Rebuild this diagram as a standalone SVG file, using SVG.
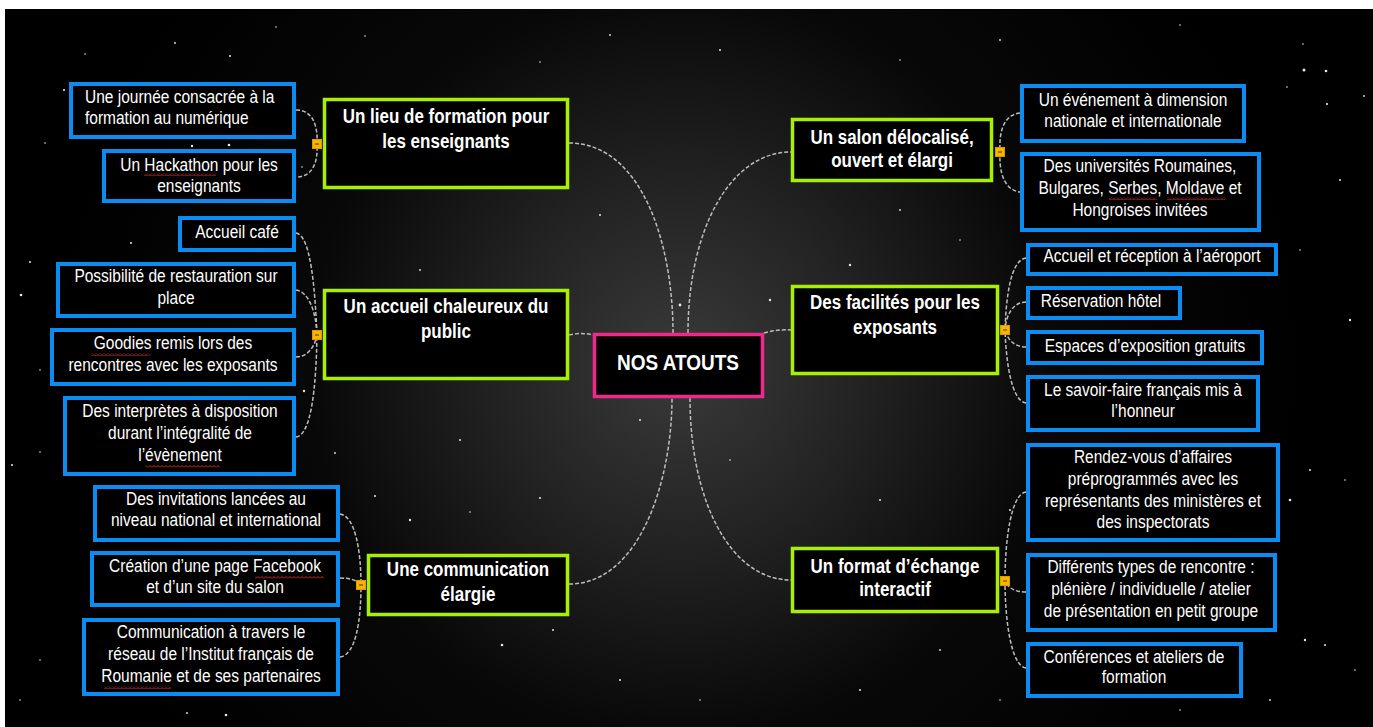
<svg xmlns="http://www.w3.org/2000/svg" width="1373" height="727" viewBox="0 0 1373 727">
<defs>
<radialGradient id="bg" gradientUnits="userSpaceOnUse" cx="680" cy="365" r="620">
<stop offset="0" stop-color="#3a3a3a"/>
<stop offset="0.3" stop-color="#222"/>
<stop offset="0.6" stop-color="#080808"/>
<stop offset="1" stop-color="#000"/>
</radialGradient>
<pattern id="sq" width="4" height="3" patternUnits="userSpaceOnUse">
<path d="M0,2.5 L2,0.5 L4,2.5" stroke="#e02828" fill="none" stroke-width="1"/>
</pattern>
<g id="knob"><rect x="-4.5" y="-4.5" width="9" height="9" fill="#f7b500" stroke="#e09a00" stroke-width="1"/><line x1="-2" y1="0" x2="2" y2="0" stroke="#6a4a00" stroke-width="1.2"/></g>
</defs>
<style>
.g{fill:#000;stroke:#a8f000;stroke-width:3.5}
.b{fill:#000;stroke:#0a8cf0;stroke-width:4}
.c{fill:#000;stroke:#f0288c;stroke-width:3.5}
.gt{font-family:"Liberation Sans",Arial,sans-serif;font-weight:bold;font-size:17px;fill:#fff;text-anchor:middle}
.bt{font-family:"Liberation Sans",Arial,sans-serif;font-size:15.5px;fill:#fff;text-anchor:middle}
.ct{font-family:"Liberation Sans",Arial,sans-serif;font-weight:bold;font-size:19px;fill:#fff;text-anchor:middle}
.ln{fill:none;stroke:#bdbdbd;stroke-width:1.5;stroke-dasharray:4 2}
.st{fill:#e8e8e8}
</style>
<rect x="0" y="0" width="1373" height="727" fill="#fff"/>
<rect x="5" y="9" width="1368" height="718" fill="url(#bg)"/>
<g id="stars">
<circle class="st" cx="175" cy="43" r="0.9"/><circle class="st" cx="85" cy="54" r="0.8"/><circle class="st" cx="230" cy="56" r="1"/><circle class="st" cx="276" cy="27" r="0.8"/><circle class="st" cx="365" cy="36" r="0.8"/><circle class="st" cx="64" cy="90" r="1.1"/><circle class="st" cx="192" cy="146" r="1.2"/><circle class="st" cx="229" cy="145" r="1.3"/><circle class="st" cx="302" cy="167" r="0.8"/><circle class="st" cx="45" cy="143" r="0.8"/><circle class="st" cx="30" cy="262" r="1"/><circle class="st" cx="21" cy="295" r="1.3"/><circle class="st" cx="131" cy="243" r="1"/><circle class="st" cx="40" cy="370" r="0.8"/><circle class="st" cx="304" cy="391" r="1.2"/><circle class="st" cx="12" cy="465" r="1"/><circle class="st" cx="40" cy="452" r="0.8"/><circle class="st" cx="335" cy="453" r="0.9"/><circle class="st" cx="375" cy="496" r="1"/><circle class="st" cx="410" cy="520" r="1.2"/><circle class="st" cx="470" cy="512" r="0.8"/><circle class="st" cx="540" cy="498" r="1"/><circle class="st" cx="502" cy="645" r="1.3"/><circle class="st" cx="553" cy="630" r="1"/><circle class="st" cx="226" cy="715" r="1.3"/><circle class="st" cx="187" cy="713" r="0.9"/><circle class="st" cx="40" cy="660" r="0.8"/><circle class="st" cx="20" cy="700" r="0.8"/><circle class="st" cx="460" cy="440" r="1"/><circle class="st" cx="420" cy="270" r="0.9"/><circle class="st" cx="600" cy="215" r="1"/><circle class="st" cx="540" cy="62" r="0.8"/><circle class="st" cx="610" cy="35" r="0.9"/><circle class="st" cx="720" cy="50" r="1"/><circle class="st" cx="680" cy="305" r="1.4"/><circle class="st" cx="640" cy="420" r="1"/><circle class="st" cx="770" cy="300" r="1.2"/><circle class="st" cx="850" cy="265" r="1.2"/><circle class="st" cx="900" cy="210" r="0.9"/><circle class="st" cx="960" cy="240" r="0.8"/><circle class="st" cx="730" cy="460" r="0.8"/><circle class="st" cx="880" cy="500" r="1"/><circle class="st" cx="940" cy="650" r="0.9"/><circle class="st" cx="860" cy="690" r="1"/><circle class="st" cx="700" cy="700" r="0.8"/><circle class="st" cx="620" cy="680" r="1"/><circle class="st" cx="1000" cy="700" r="0.8"/><circle class="st" cx="1303" cy="44" r="0.8"/><circle class="st" cx="1304" cy="70" r="1.5"/><circle class="st" cx="1326" cy="71" r="1.3"/><circle class="st" cx="1287" cy="87" r="0.8"/><circle class="st" cx="1327" cy="104" r="1.1"/><circle class="st" cx="1364" cy="96" r="0.9"/><circle class="st" cx="1340" cy="180" r="1"/><circle class="st" cx="1300" cy="250" r="0.8"/><circle class="st" cx="1350" cy="320" r="1.2"/><circle class="st" cx="1310" cy="470" r="1"/><circle class="st" cx="1290" cy="500" r="1.3"/><circle class="st" cx="1345" cy="480" r="0.8"/><circle class="st" cx="1305" cy="640" r="1.2"/><circle class="st" cx="1325" cy="645" r="1"/><circle class="st" cx="1355" cy="670" r="0.8"/><circle class="st" cx="1270" cy="700" r="0.9"/><circle class="st" cx="1180" cy="710" r="0.8"/><circle class="st" cx="1100" cy="430" r="1"/><circle class="st" cx="1180" cy="25" r="0.8"/><circle class="st" cx="1000" cy="40" r="0.9"/><circle class="st" cx="900" cy="60" r="0.8"/><circle class="st" cx="1010" cy="510" r="1"/>
</g>
<g id="connectors">
<path class="ln" d="M569,143 C640,143 673,240 673,333"/>
<path class="ln" d="M569,335 Q581,332 593,335"/>
<path class="ln" d="M569,584 C640,584 672,480 672,398"/>
<path class="ln" d="M688,333 C688,230 730,152 791,152"/>
<path class="ln" d="M764,333 Q778,329 791,330"/>
<path class="ln" d="M690,398 C690,500 730,580 791,580"/>
<path class="ln" d="M296,110 C313,110 318,126 317,144 C318,162 313,177 296,177"/>
<path class="ln" d="M296,233 C311,235 315,290 317,335"/>
<path class="ln" d="M296,290 C309,292 316,312 317,335"/>
<path class="ln" d="M296,357 C308,357 315,346 317,335"/>
<path class="ln" d="M296,437 C311,435 316,390 317,335"/>
<path class="ln" d="M340,514 C355,516 361,550 361,585"/>
<path class="ln" d="M340,578 C350,578 357,580 361,585"/>
<path class="ln" d="M340,657 C356,655 361,620 361,585"/>
<path class="ln" d="M1020,113 C1004,115 999,130 1000,152 C999,172 1004,190 1020,192"/>
<path class="ln" d="M1026,258 C1010,260 1006,300 1005,330"/>
<path class="ln" d="M1026,302 C1013,302 1006,315 1005,330"/>
<path class="ln" d="M1026,347 C1013,347 1007,338 1005,330"/>
<path class="ln" d="M1026,403 C1011,401 1006,360 1005,330"/>
<path class="ln" d="M1026,492 C1011,494 1005,540 1005,581"/>
<path class="ln" d="M1026,592 C1015,592 1008,588 1005,581"/>
<path class="ln" d="M1026,668 C1011,666 1005,620 1005,581"/>
</g>
<g id="center">
<rect class="c" x="594.5" y="334.5" width="168" height="62"/>
<text class="ct" transform="translate(678,370) scale(1,1.15)">NOS ATOUTS</text>
</g>
<g id="n-formation">
<rect class="g" x="324.5" y="99.5" width="243" height="88"/>
<text class="gt" transform="translate(446,123) scale(1,1.15)"><tspan x="0" y="0">Un lieu de formation pour</tspan><tspan x="0" y="21.7">les enseignants</tspan></text>
</g>
<g id="n-accueil">
<rect class="g" x="324.5" y="290.5" width="243" height="88"/>
<text class="gt" transform="translate(446,313) scale(1,1.15)"><tspan x="0" y="0">Un accueil chaleureux du</tspan><tspan x="0" y="21.7">public</tspan></text>
</g>
<g id="n-communication">
<rect class="g" x="368.5" y="555.5" width="199" height="59"/>
<text class="gt" transform="translate(468,576) scale(1,1.15)"><tspan x="0" y="0">Une communication</tspan><tspan x="0" y="21.7">élargie</tspan></text>
</g>
<g id="n-salon">
<rect class="g" x="792.5" y="119.5" width="199" height="61"/>
<text class="gt" transform="translate(892,144) scale(1,1.15)"><tspan x="0" y="0">Un salon délocalisé,</tspan><tspan x="0" y="20">ouvert et élargi</tspan></text>
</g>
<g id="n-facilites">
<rect class="g" x="792.5" y="286.5" width="205" height="87"/>
<text class="gt" transform="translate(895,309) scale(1,1.15)"><tspan x="0" y="0">Des facilités pour les</tspan><tspan x="0" y="21.7">exposants</tspan></text>
</g>
<g id="n-format">
<rect class="g" x="792.5" y="548.5" width="205" height="63"/>
<text class="gt" transform="translate(895,573) scale(1,1.15)"><tspan x="0" y="0">Un format d’échange</tspan><tspan x="0" y="20">interactif</tspan></text>
</g>
<g id="c-journee">
<rect class="b" x="71" y="84" width="223" height="53"/>
<text class="bt" style="text-anchor:start" transform="translate(85,103) scale(1,1.18)"><tspan x="0" y="0">Une journée consacrée à la</tspan><tspan x="0" y="17.8">formation au numérique</tspan></text>
</g>
<g id="c-hackathon">
<rect class="b" x="104" y="151" width="190" height="50"/>
<text class="bt" transform="translate(199,171) scale(1,1.18)"><tspan x="0" y="0">Un Hackathon pour les</tspan><tspan x="0" y="17.8">enseignants</tspan></text>
</g>
<g id="c-cafe">
<rect class="b" x="180" y="218" width="114" height="32"/>
<text class="bt" transform="translate(237,238) scale(1,1.18)">Accueil café</text>
</g>
<g id="c-restauration">
<rect class="b" x="58" y="264" width="236" height="52"/>
<text class="bt" transform="translate(176,282) scale(1,1.18)"><tspan x="0" y="0">Possibilité de restauration sur</tspan><tspan x="0" y="18.6">place</tspan></text>
</g>
<g id="c-goodies">
<rect class="b" x="52" y="330" width="242" height="54"/>
<text class="bt" transform="translate(173,349) scale(1,1.18)"><tspan x="0" y="0">Goodies remis lors des</tspan><tspan x="0" y="18.6">rencontres avec les exposants</tspan></text>
</g>
<g id="c-interpretes">
<rect class="b" x="65" y="398" width="229" height="76"/>
<text class="bt" transform="translate(180,417) scale(1,1.18)"><tspan x="0" y="0">Des interprètes à disposition</tspan><tspan x="0" y="18.6">durant l’intégralité de</tspan><tspan x="0" y="37.3">l’évènement</tspan></text>
</g>
<g id="c-invitations">
<rect class="b" x="95" y="487" width="243" height="53"/>
<text class="bt" transform="translate(216,505) scale(1,1.18)"><tspan x="0" y="0">Des invitations lancées au</tspan><tspan x="0" y="17.8">niveau national et international</tspan></text>
</g>
<g id="c-facebook">
<rect class="b" x="92" y="553" width="246" height="52"/>
<text class="bt" transform="translate(215,572) scale(1,1.18)"><tspan x="0" y="0">Création d’une page Facebook</tspan><tspan x="0" y="17.8">et d’un site du salon</tspan></text>
</g>
<g id="c-reseau">
<rect class="b" x="84" y="620" width="254" height="74"/>
<text class="bt" transform="translate(211,638) scale(1,1.18)"><tspan x="0" y="0">Communication à travers le</tspan><tspan x="0" y="18.6">réseau de l’Institut français de</tspan><tspan x="0" y="37.3">Roumanie et de ses partenaires</tspan></text>
</g>
<g id="c-evenement">
<rect class="b" x="1022" y="86" width="222" height="55"/>
<text class="bt" transform="translate(1133,106) scale(1,1.18)"><tspan x="0" y="0">Un événement à dimension</tspan><tspan x="0" y="17.8">nationale et internationale</tspan></text>
</g>
<g id="c-universites">
<rect class="b" x="1022" y="154" width="237" height="76"/>
<text class="bt" transform="translate(1140,172) scale(1,1.18)"><tspan x="0" y="0">Des universités Roumaines,</tspan><tspan x="0" y="18.6">Bulgares, Serbes, Moldave et</tspan><tspan x="0" y="37.3">Hongroises invitées</tspan></text>
</g>
<g id="c-aeroport">
<rect class="b" x="1028" y="245" width="248" height="29"/>
<text class="bt" transform="translate(1152,262) scale(1,1.18)">Accueil et réception à l’aéroport</text>
</g>
<g id="c-hotel">
<rect class="b" x="1028" y="288" width="152" height="30"/>
<text class="bt" transform="translate(1101,307) scale(1,1.18)">Réservation hôtel</text>
</g>
<g id="c-espaces">
<rect class="b" x="1028" y="332" width="234" height="31"/>
<text class="bt" transform="translate(1145,352) scale(1,1.18)">Espaces d’exposition gratuits</text>
</g>
<g id="c-savoirfaire">
<rect class="b" x="1028" y="377" width="230" height="53"/>
<text class="bt" transform="translate(1143,396) scale(1,1.18)"><tspan x="0" y="0">Le savoir-faire français mis à</tspan><tspan x="0" y="17.8">l’honneur</tspan></text>
</g>
<g id="c-rendezvous">
<rect class="b" x="1028" y="445" width="250" height="95"/>
<text class="bt" transform="translate(1153,463) scale(1,1.18)"><tspan x="0" y="0">Rendez-vous  d’affaires</tspan><tspan x="0" y="18.6">préprogrammés avec les</tspan><tspan x="0" y="37.3">représentants des ministères et</tspan><tspan x="0" y="55.1">des inspectorats</tspan></text>
</g>
<g id="c-rencontres">
<rect class="b" x="1028" y="555" width="247" height="75"/>
<text class="bt" transform="translate(1151,573) scale(1,1.18)"><tspan x="0" y="0">Différents types de rencontre :</tspan><tspan x="0" y="18.6">plénière / individuelle / atelier</tspan><tspan x="0" y="37.3">de présentation en petit groupe</tspan></text>
</g>
<g id="c-conferences">
<rect class="b" x="1028" y="644" width="213" height="52"/>
<text class="bt" transform="translate(1134,663) scale(1,1.18)"><tspan x="0" y="0">Conférences et ateliers de</tspan><tspan x="0" y="17">formation</tspan></text>
</g>
<g id="knobs">
<use href="#knob" x="317" y="144"/>
<use href="#knob" x="317" y="335"/>
<use href="#knob" x="361" y="585"/>
<use href="#knob" x="1000" y="152"/>
<use href="#knob" x="1005" y="330"/>
<use href="#knob" x="1005" y="581"/>
</g>
<g id="spellcheck">
<rect x="144" y="173" width="72" height="3" fill="url(#sq)"/>
<rect x="1109" y="197" width="48" height="3" fill="url(#sq)"/>
<rect x="1167" y="197" width="58" height="3" fill="url(#sq)"/>
<rect x="91" y="353" width="59" height="3" fill="url(#sq)"/>
<rect x="146" y="465" width="74" height="3" fill="url(#sq)"/>
<rect x="255" y="576" width="69" height="3" fill="url(#sq)"/>
<rect x="104" y="686" width="67" height="3" fill="url(#sq)"/>
</g>
</svg>
